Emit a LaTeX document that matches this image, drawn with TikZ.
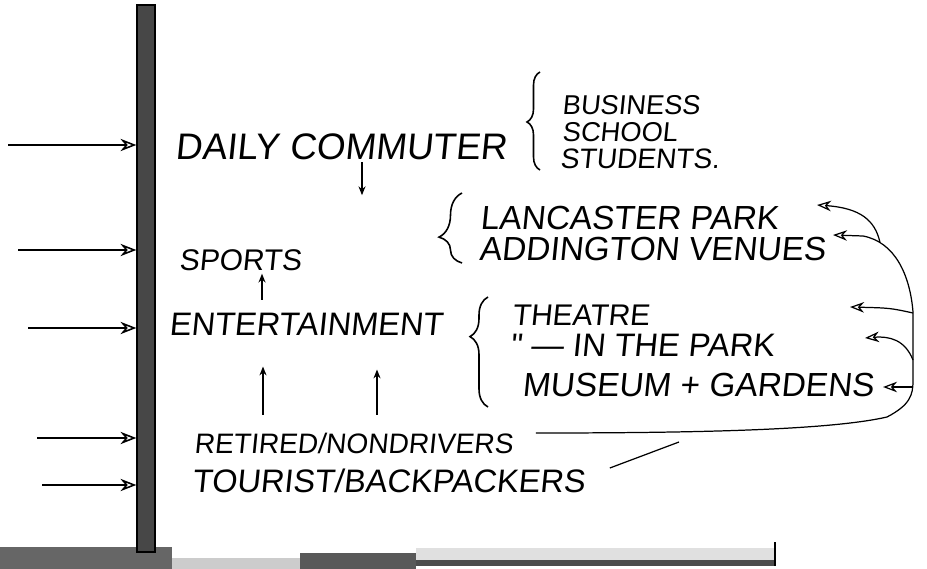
\documentclass[tikz,border=0pt]{standalone}
\usepackage{fontspec}
\newfontfamily\handfont[FakeSlant=0.1]{Liberation Sans}
\newcommand{\handsz}[1]{\fontsize{#1}{#1}\selectfont}
\usepackage{tikz}
\usetikzlibrary{arrows.meta, positioning, decorations.pathreplacing}
\tikzset{
  handtext/.style={anchor=west, inner sep=1pt, font=\handfont\handsz{#1}},
  barpost/.style={rectangle, draw=black, line width=0.8pt, fill=black!72, minimum width=0.36cm, minimum height=10.94cm, inner sep=0pt},
  feedarrow/.style={-{Stealth[open, length=9pt, width=7pt]}, line width=0.9pt},
  tickarrow/.style={-{Stealth[length=5pt, width=4pt]}, line width=0.8pt},
  venuearrow/.style={-{Stealth[open, length=8pt, width=6pt]}, line width=0.7pt},
  handline/.style={line width=0.7pt},
  handbrace/.style={decorate, line width=0.9pt}
}

\begin{document}
\begin{tikzpicture}
  \useasboundingbox (0,0) rectangle (18.54,-11.38);

  % scanned strip along the bottom edge
  \fill[black!60] (0,-10.94) rectangle (3.44,-11.38);
  \fill[black!20] (3.44,-11.16) rectangle (6.0,-11.38);
  \fill[black!65] (6.0,-11.06) rectangle (8.32,-11.38);
  \fill[black!12] (8.32,-10.96) rectangle (15.5,-11.2);
  \fill[black!70] (8.32,-11.2) rectangle (15.5,-11.32);
  \draw[line width=1.6pt] (15.5,-10.84) -- (15.5,-11.32);

  \node[barpost] (post) at (2.92,-5.57) {};

  \foreach \xx/\yy [count=\i] in {0.16/-2.9, 0.36/-5.0, 0.56/-6.56, 0.74/-8.76, 0.84/-9.7}{
    \coordinate (feed\i) at (\xx,\yy);
    \draw[feedarrow] (feed\i) -- (feed\i -| post.west);
  }

  \node[handtext=21] (daily) at (3.46,-2.94) {DAILY COMMUTER};
  \node[handtext=15.5] (business) at (11.2,-2.1) {BUSINESS};
  \node[handtext=15.5] (school) at (11.2,-2.64) {SCHOOL};
  \node[handtext=16] (students) at (11.16,-3.18) {STUDENTS.};
  \node[handtext=17] (sports) at (3.54,-5.2) {SPORTS};
  \node[handtext=19] (lancaster) at (9.56,-4.36) {LANCASTER PARK};
  \node[handtext=19] (addington) at (9.54,-4.98) {ADDINGTON VENUES};
  \node[handtext=18.5] (ent) at (3.34,-6.48) {ENTERTAINMENT};
  \node[handtext=17] (theatre) at (10.2,-6.3) {THEATRE};
  \node[handtext=18.5] (inpark) at (10.16,-6.9) {" — IN THE PARK};
  \node[handtext=19] (museum) at (10.4,-7.7) {MUSEUM + GARDENS};
  \node[handtext=16] (retired) at (3.84,-8.86) {RETIRED/NONDRIVERS};
  \node[handtext=18.5] (tourist) at (3.8,-9.62) {TOURIST/BACKPACKERS};

  % braces
  \draw[handbrace, decoration={brace, amplitude=0.26cm, aspect=0.49}] (10.8,-3.4) -- (10.8,-1.44);
  \draw[handbrace, decoration={brace, amplitude=0.46cm, aspect=0.37}] (9.24,-5.26) -- (9.24,-3.86);
  \draw[handbrace, decoration={brace, amplitude=0.36cm, aspect=0.64}] (9.76,-8.14) -- (9.76,-5.94);

  % small arrows between the groups
  \draw[tickarrow] ([xshift=3.78cm]daily.south west) -- ++(0,-0.66);
  \draw[tickarrow] ([xshift=1.9cm, yshift=0.22cm]ent.north west) -- ++(0,0.52);
  \draw[tickarrow] ([xshift=1.42cm, yshift=0.32cm]retired.north west) -- ++(0,0.96);
  \draw[tickarrow] ([xshift=3.7cm, yshift=0.32cm]retired.north west) -- ++(0,0.9);

  % loop back to the venues
  \coordinate (tipLanc) at (16.34,-4.1);
  \coordinate (tipAdd) at (16.66,-4.7);
  \coordinate (tipTheatre) at (17.0,-6.14);
  \coordinate (tipPark) at (17.3,-6.76);
  \coordinate (tipMuseum) at (17.66,-7.74);
  \coordinate (forkLanc) at (17.6,-4.85);
  \coordinate (forkTheatre) at (18.26,-6.26);
  \coordinate (forkPark) at (18.26,-7.2);
  \coordinate (forkMuseum) at (18.25,-7.74);
  \coordinate (tourJoin) at (13.58,-8.84);

  \draw[venuearrow] ([xshift=0.42cm, yshift=0.2cm]retired.east)
    .. controls (14.0,-8.66) and (16.6,-8.6) .. (17.74,-8.34)
    .. controls (18.2,-8.1) and (18.26,-7.9) .. (18.26,-7.62)
    -- (18.26,-6.24)
    .. controls (18.2,-5.5) and (17.9,-4.84) .. (17.26,-4.72)
    -- (tipAdd);
  \draw[venuearrow] (forkLanc) .. controls (17.5,-4.4) and (17.2,-4.16) .. (tipLanc);
  \draw[venuearrow] (forkTheatre) .. controls (17.8,-6.16) .. (tipTheatre);
  \draw[venuearrow] (forkPark) .. controls (18.1,-6.8) and (17.8,-6.72) .. (tipPark);
  \draw[venuearrow] (forkMuseum) -- (tipMuseum);
  \draw[handline] ([xshift=0.46cm, yshift=0.26cm]tourist.east) -- (tourJoin);
\end{tikzpicture}
\end{document}
